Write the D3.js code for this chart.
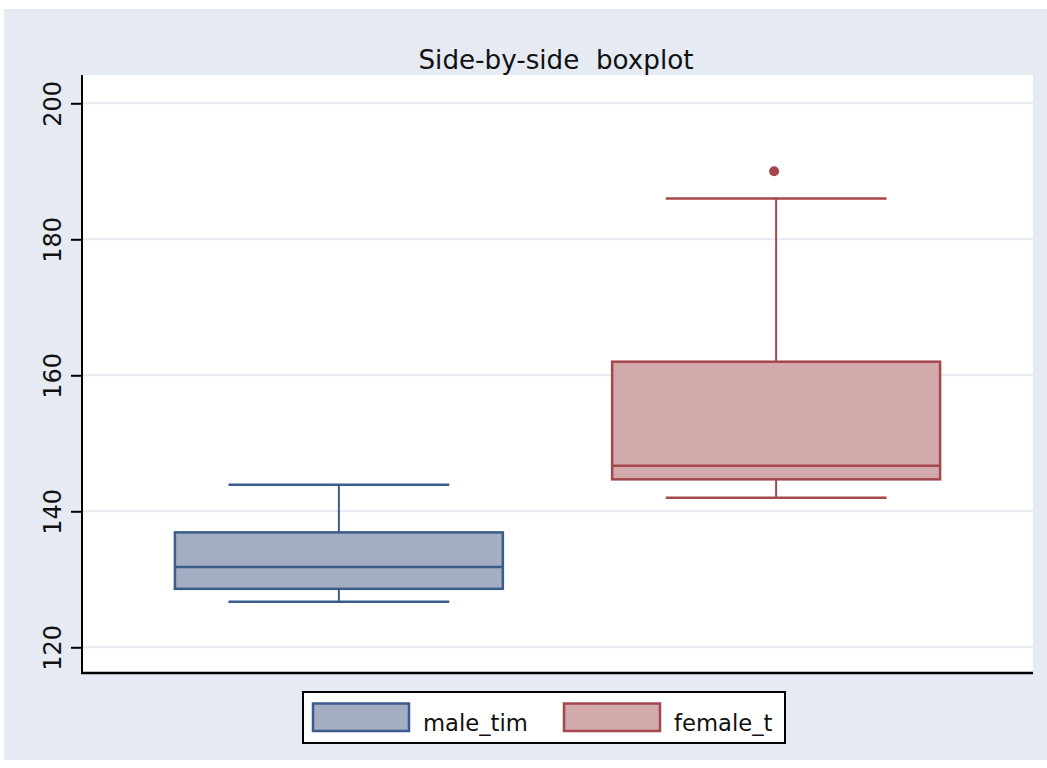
<!DOCTYPE html>
<html>
<head>
<meta charset="utf-8">
<script src="https://cdn.jsdelivr.net/npm/d3@7"></script>
<style>
  body { margin: 0; background: #fff; }
  text { font-family: "DejaVu Sans", sans-serif; fill: #111; }
</style>
</head>
<body>
<div id="chart"></div>
<script>
// box plot summaries
const groups = ["male_tim", "female_t"];
const lowWhisker = [126.7, 142];
const q1 = [128.6, 144.7];
const median = [131.8, 146.7];
const q3 = [136.9, 162];
const highWhisker = [143.9, 186];
const outliers = [[], [190]];
const yTicks = [120, 140, 160, 180, 200];

const strokeCol = ["#3b5b8b", "#a5474d"];
const fillCol = ["#a4aec3", "#d3aaab"];
const bgCol = "#e6eaf3";

const W = 1047, H = 768;
const plot = {left: 82, right: 1033, top: 75, bottom: 673};

const svg = d3.select("#chart").append("svg")
  .attr("width", W)
  .attr("height", H);

// outer panel
svg.append("rect")
  .attr("x", 4).attr("y", 9)
  .attr("width", W - 4).attr("height", 751)
  .attr("fill", bgCol);

// title (drawn before plot so the descender gets clipped like the original)
svg.append("text")
  .attr("x", 556)
  .attr("y", 69)
  .attr("text-anchor", "middle")
  .style("font-size", "26.2px")
  .style("white-space", "pre")
  .text("Side-by-side  boxplot");

svg.append("rect")
  .attr("x", plot.left).attr("y", plot.top)
  .attr("width", plot.right - plot.left).attr("height", plot.bottom - plot.top)
  .attr("fill", "#fff");

var y = d3.scaleLinear()
  .domain([120, 200])
  .range([647.3, 103.3]);

var x = d3.scalePoint()
  .domain(groups)
  .range([plot.left, plot.right])
  .padding(0.5875);

const step = x.step();
const boxW = step * 0.75;
const capW = step * 0.505;

// grid lines
svg.append("g")
  .selectAll("line")
  .data(yTicks)
  .enter()
  .append("line")
    .attr("x1", plot.left).attr("x2", plot.right)
    .attr("y1", d => y(d)).attr("y2", d => y(d))
    .attr("stroke", bgCol)
    .attr("stroke-width", 2);

// y axis
var yAxis = svg.append("g")
  .attr("transform", "translate(" + plot.left + ",0)")
  .call(d3.axisLeft(y).tickValues(yTicks).tickSize(11).tickFormat(d3.format("d")));
yAxis.select(".domain").remove();
yAxis.selectAll(".tick line").attr("stroke", "#000").attr("stroke-width", 2);
yAxis.selectAll(".tick text")
  .attr("x", null).attr("dy", null)
  .attr("transform", "translate(-21,0) rotate(-90)")
  .attr("text-anchor", "middle")
  .style("font-size", "24px")
  .style("font-family", "DejaVu Sans, sans-serif")
  .attr("fill", "#111");

svg.append("line")
  .attr("x1", plot.left).attr("x2", plot.left)
  .attr("y1", plot.top).attr("y2", plot.bottom)
  .attr("stroke", "#000").attr("stroke-width", 2);
svg.append("line")
  .attr("x1", plot.left - 1).attr("x2", plot.right)
  .attr("y1", plot.bottom).attr("y2", plot.bottom)
  .attr("stroke", "#000").attr("stroke-width", 2.5);

// boxes
const idx = groups.map((g, i) => i);
const boxes = svg.append("g").selectAll("g")
  .data(idx)
  .enter()
  .append("g");

// whiskers
boxes.append("line")
  .attr("x1", i => x(groups[i])).attr("x2", i => x(groups[i]))
  .attr("y1", i => y(highWhisker[i])).attr("y2", i => y(q3[i]))
  .attr("stroke", i => strokeCol[i]).attr("stroke-width", 2);
boxes.append("line")
  .attr("x1", i => x(groups[i])).attr("x2", i => x(groups[i]))
  .attr("y1", i => y(q1[i])).attr("y2", i => y(lowWhisker[i]))
  .attr("stroke", i => strokeCol[i]).attr("stroke-width", 2);
// caps
boxes.append("line")
  .attr("x1", i => x(groups[i]) - capW / 2).attr("x2", i => x(groups[i]) + capW / 2)
  .attr("y1", i => y(highWhisker[i])).attr("y2", i => y(highWhisker[i]))
  .attr("stroke", i => strokeCol[i]).attr("stroke-width", 2.5);
boxes.append("line")
  .attr("x1", i => x(groups[i]) - capW / 2).attr("x2", i => x(groups[i]) + capW / 2)
  .attr("y1", i => y(lowWhisker[i])).attr("y2", i => y(lowWhisker[i]))
  .attr("stroke", i => strokeCol[i]).attr("stroke-width", 2.5);
// box
boxes.append("rect")
  .attr("x", i => x(groups[i]) - boxW / 2)
  .attr("y", i => y(q3[i]))
  .attr("width", boxW)
  .attr("height", i => y(q1[i]) - y(q3[i]))
  .attr("fill", i => fillCol[i])
  .attr("stroke", i => strokeCol[i])
  .attr("stroke-width", 2.5);
// median
boxes.append("line")
  .attr("x1", i => x(groups[i]) - boxW / 2).attr("x2", i => x(groups[i]) + boxW / 2)
  .attr("y1", i => y(median[i])).attr("y2", i => y(median[i]))
  .attr("stroke", i => strokeCol[i]).attr("stroke-width", 2.5);
// outliers
boxes.selectAll("circle")
  .data(i => outliers[i].map(v => ({i: i, v: v})))
  .enter()
  .append("circle")
    .attr("cx", d => x(groups[d.i]) - 2)
    .attr("cy", d => y(d.v))
    .attr("r", 5)
    .attr("fill", d => strokeCol[d.i]);

// legend
const legend = svg.append("g");
legend.append("rect")
  .attr("x", 303).attr("y", 692)
  .attr("width", 482).attr("height", 51)
  .attr("fill", "#fff")
  .attr("stroke", "#000")
  .attr("stroke-width", 2);

const legX = [313, 564];
groups.forEach((g, i) => {
  legend.append("rect")
    .attr("x", legX[i]).attr("y", 703.5)
    .attr("width", 96).attr("height", 27.5)
    .attr("fill", fillCol[i])
    .attr("stroke", strokeCol[i])
    .attr("stroke-width", 2.5);
  legend.append("text")
    .attr("x", legX[i] + 110)
    .attr("y", 731)
    .style("font-size", "22.7px")
    .text(g);
});
</script>
</body>
</html>
